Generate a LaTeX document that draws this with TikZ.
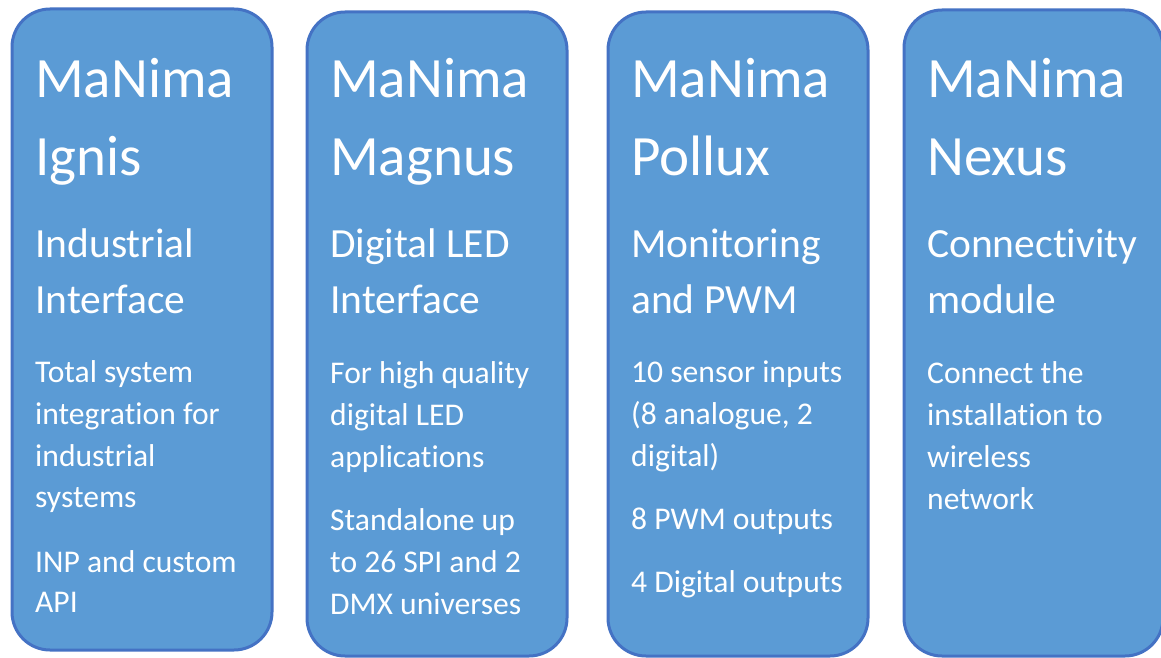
\documentclass[tikz,border=0pt]{standalone}
\usepackage{fontspec}
\setmainfont[Ligatures=NoCommon]{Carlito}
\definecolor{boxfill}{HTML}{5B9BD5}
\definecolor{boxline}{HTML}{4472C4}
\begin{document}
\begin{tikzpicture}[x=1pt,y=-1pt,
  card/.style={fill=boxfill,draw=boxline,line width=3pt,rounded corners=38pt},
  ttl/.style={anchor=base west,inner sep=0pt,text=white,font=\fontsize{57}{60}\selectfont},
  sub/.style={anchor=base west,inner sep=0pt,text=white,font=\fontsize{41.5}{46}\selectfont},
  body/.style={anchor=base west,inner sep=0pt,text=white,font=\fontsize{31.6}{36}\selectfont}]
\useasboundingbox (0,0) rectangle (1161,658);
\fill[white] (0,0) rectangle (1161,658);
% cards
\draw[card] (12,9) rectangle (272,650);
\draw[card] (307,12) rectangle (567,656);
\draw[card] (608,12) rectangle (868,656);
\draw[card] (904,10) rectangle (1163,656);
% card 1
\node[ttl] (a1) at (35,98) {MaNima};
\node[ttl] (a2) at (35,175) {Ignis};
\node[sub] (a3) at (35,257) {Industrial};
\node[sub] (a4) at (35,313) {Interface};
\node[body] (a5) at (35,382) {Total system};
\node[body] (a6) at (35,424) {integration for};
\node[body] (a7) at (35,466) {industrial};
\node[body] (a8) at (35,507) {systems};
\node[body] (a9) at (35,572) {INP and custom};
\node[body] (a10) at (35,612) {API};
% card 2
\node[ttl] (b1) at (330,98) {MaNima};
\node[ttl] (b2) at (330,175) {Magnus};
\node[sub] (b3) at (330,257) {Digital LED};
\node[sub] (b4) at (330,313) {Interface};
\node[body] (b5) at (330,383) {For high quality};
\node[body] (b6) at (330,425) {digital LED};
\node[body] (b7) at (330,467) {applications};
\node[body] (b8) at (330,530) {Standalone up};
\node[body] (b9) at (330,572) {to 26 SPI and 2};
\node[body] (b10) at (330,614) {DMX universes};
% card 3
\node[ttl] (c1) at (631,98) {MaNima};
\node[ttl] (c2) at (631,175) {Pollux};
\node[sub] (c3) at (631,257) {Monitoring};
\node[sub] (c4) at (631,313) {and PWM};
\node[body] (c5) at (631,382) {10 sensor inputs};
\node[body] (c6) at (631,424) {(8 analogue, 2};
\node[body] (c7) at (631,466) {digital)};
\node[body] (c8) at (631,529) {8 PWM outputs};
\node[body] (c9) at (631,592) {4 Digital outputs};
% card 4
\node[ttl] (d1) at (927,98) {MaNima};
\node[ttl] (d2) at (927,175) {Nexus};
\node[sub] (d3) at (927,257) {Connectivity};
\node[sub] (d4) at (927,313) {module};
\node[body] (d5) at (927,383) {Connect the};
\node[body] (d6) at (927,425) {installation to};
\node[body] (d7) at (927,467) {wireless};
\node[body] (d8) at (927,509) {network};
\end{tikzpicture}
\end{document}
